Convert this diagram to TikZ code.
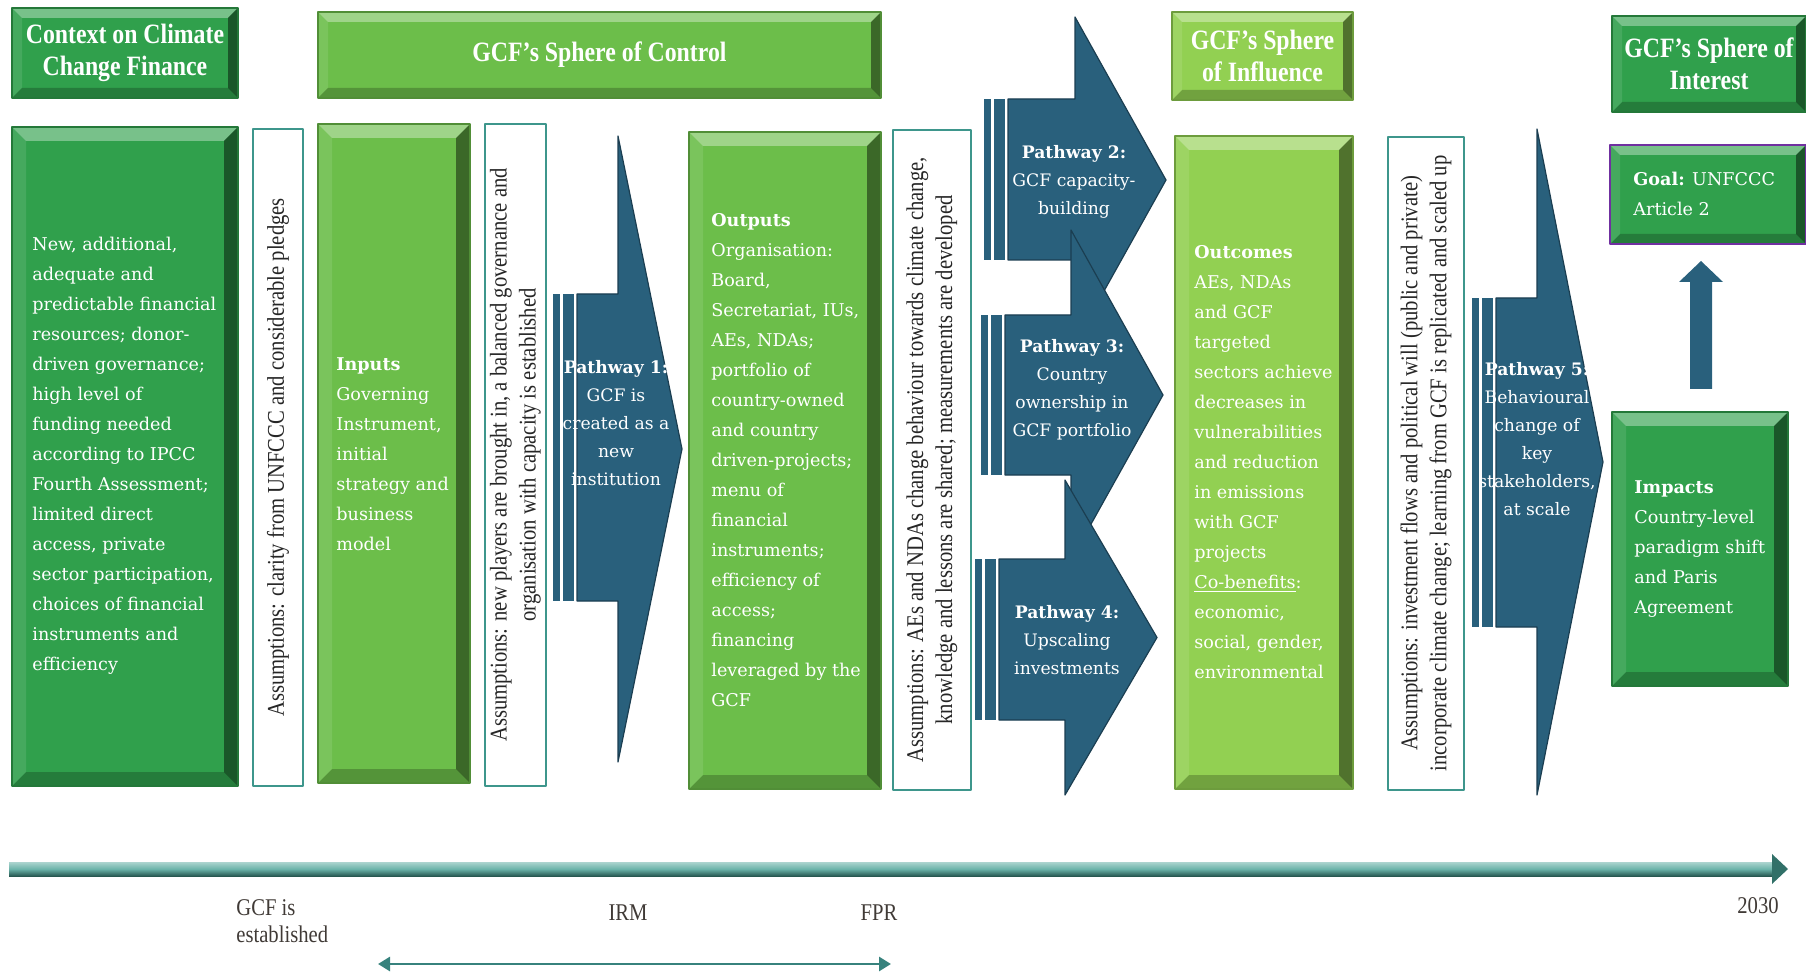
\documentclass[tikz,border=0pt]{standalone}
\usepackage{fontspec}
\setmainfont{DejaVu Serif}
\newfontfamily\headfont[FakeStretch=0.85]{Liberation Serif}
\newfontfamily\notefont[FakeStretch=0.86]{Liberation Serif}
\usetikzlibrary{calc,arrows.meta}

\definecolor{ctxgreen}{RGB}{48,160,76}
\definecolor{ctrlgreen}{RGB}{108,190,74}
\definecolor{inflgreen}{RGB}{146,208,82}
\definecolor{pathblue}{RGB}{41,96,124}
\definecolor{assumteal}{RGB}{62,150,140}
\definecolor{timeteal}{RGB}{70,160,148}
\definecolor{spanteal}{RGB}{55,130,125}
\definecolor{goalpurple}{RGB}{112,48,160}
\definecolor{labelgray}{RGB}{64,58,54}

\tikzset{
  bevel/.style={path picture={
      \coordinate (bv1) at (path picture bounding box.north west);
      \coordinate (bv2) at (path picture bounding box.north east);
      \coordinate (bv3) at (path picture bounding box.south east);
      \coordinate (bv4) at (path picture bounding box.south west);
      \coordinate (bw1) at ($(bv1)+(#1,-#1)$);
      \coordinate (bw2) at ($(bv2)+(-#1,-#1)$);
      \coordinate (bw3) at ($(bv3)+(-#1,#1)$);
      \coordinate (bw4) at ($(bv4)+(#1,#1)$);
      \fill[white,opacity=.35] (bv1) -- (bv2) -- (bw2) -- (bw1) -- cycle;
      \fill[black,opacity=.45] (bv2) -- (bv3) -- (bw3) -- (bw2) -- cycle;
      \fill[black,opacity=.22] (bv3) -- (bv4) -- (bw4) -- (bw3) -- cycle;
      \fill[white,opacity=.10] (bv4) -- (bv1) -- (bw1) -- (bw4) -- cycle;
    }},
  bevel/.default=7pt,
  panel/.style={fill=#1, draw=#1!75!black, line width=0.6pt, bevel, inner sep=0pt},
  headtext/.style={text=white, font=\headfont\bfseries\fontsize{14}{16}\selectfont, align=center},
  bodytext/.style={text=white, font=\fontsize{8.8}{15}\selectfont, align=left, anchor=west, inner sep=0pt},
  waytext/.style={text=white, font=\fontsize{8.6}{14}\selectfont, align=center, inner sep=0pt},
  assumbox/.style={draw=assumteal, line width=0.9pt, fill=white, inner sep=0pt},
  assumtext/.style={rotate=90, font=\notefont\fontsize{12}{14.5}\selectfont, align=center, text=black!85, inner sep=0pt},
  timetext/.style={font=\notefont\fontsize{12}{13.5}\selectfont, text=labelgray, inner sep=0pt},
}

\begin{document}
\begin{tikzpicture}[x=0.5pt, y=-0.5pt, line join=round, >=Triangle]
  \useasboundingbox (0,0) rectangle (1806,973);
  %%%%%%%%%%%%%%%%%%%%%%%%%%%%%%%%%
  % headers
  \node[panel=ctxgreen, bevel=5pt, headtext, minimum width=113pt, minimum height=45pt] (ctxhead) at (125,53) {Context on Climate\\Change Finance};
  \node[panel=ctrlgreen, bevel=5pt, headtext, minimum width=281.5pt, minimum height=43pt] (ctrlhead) at (599.5,55) {GCF’s Sphere of Control};
  \node[panel=inflgreen, bevel=5pt, headtext, minimum width=90.5pt, minimum height=44pt] (inflhead) at (1262.5,56) {GCF’s Sphere\\of Influence};
  \node[panel=ctxgreen, bevel=5pt, headtext, minimum width=97pt, minimum height=48pt] (inthead) at (1709,64) {GCF’s Sphere of\\Interest};
  %%%%%%%%%%%%%%%%%%%%%%%%%%%%%%%%%
  % panels
  \node[panel=ctxgreen, minimum width=113pt, minimum height=329.5pt] (context) at (125,456.5) {};
  \node[panel=ctrlgreen, minimum width=76pt, minimum height=329.5pt] (inputs) at (394,453.5) {};
  \node[panel=ctrlgreen, minimum width=96pt, minimum height=328.5pt] (outputs) at (785,460.5) {};
  \node[panel=inflgreen, minimum width=89pt, minimum height=326.5pt] (outcomes) at (1264,462.5) {};
  \node[panel=ctxgreen, minimum width=88pt, minimum height=137pt] (impacts) at (1700,549) {};
  \node[panel=ctxgreen, bevel=5pt, draw=goalpurple, line width=1.2pt, minimum width=98pt, minimum height=49.5pt] (goal) at (1708,194.5) {};
  %%%%%%%%%%%%%%%%%%%%%%%%%%%%%%%%%
  \node[bodytext] (ctxtext) at (32,456) {New, additional,\\adequate and\\predictable financial\\resources; donor-\\driven governance;\\high level of\\funding needed\\according to IPCC\\Fourth Assessment;\\limited direct\\access, private\\sector participation,\\choices of financial\\instruments and\\efficiency};
  \node[bodytext] (inputtext) at (336,454) {\textbf{Inputs}\\Governing\\Instrument,\\initial\\strategy and\\business\\model};
  \node[bodytext] (outputtext) at (711,460) {\textbf{Outputs}\\Organisation:\\Board,\\Secretariat, IUs,\\AEs, NDAs;\\portfolio of\\country-owned\\and country\\driven-projects;\\menu of\\financial\\instruments;\\efficiency of\\access;\\financing\\leveraged by the\\GCF};
  \node[bodytext] (outcometext) at (1194,462) {\textbf{Outcomes}\\AEs, NDAs\\and GCF\\targeted\\sectors achieve\\decreases in\\vulnerabilities\\and reduction\\in emissions\\with GCF\\projects\\\underline{Co-benefits}:\\economic,\\social, gender,\\environmental};
  \node[bodytext] (impacttext) at (1634,549) {\textbf{Impacts}\\Country-level\\paradigm shift\\and Paris\\Agreement};
  \node[bodytext] (goaltext) at (1633,194) {\textbf{Goal:} UNFCCC\\Article 2};
  %%%%%%%%%%%%%%%%%%%%%%%%%%%%%%%%%
  % assumptions
  \node[assumbox, minimum width=25pt, minimum height=328.5pt] (assum1) at (278,457.5) {};
  \node[assumbox, minimum width=30.5pt, minimum height=331pt] (assum2) at (515.5,455) {};
  \node[assumbox, minimum width=39pt, minimum height=330pt] (assum3) at (932,460) {};
  \node[assumbox, minimum width=38pt, minimum height=326.5pt] (assum4) at (1426,463.5) {};
  \node[assumtext] at (assum1.center) {Assumptions: clarity from UNFCCC and considerable pledges};
  \node[assumtext] at (assum2.center) {Assumptions: new players are brought in, a balanced governance and\\organisation with capacity is established};
  \node[assumtext] at (assum3.center) {Assumptions: AEs and NDAs change behaviour towards climate change,\\knowledge and lessons are shared; measurements are developed};
  \node[assumtext] at (assum4.center) {Assumptions: investment flows and political will (public and private)\\incorporate climate change; learning from GCF is replicated and scaled up};
  %%%%%%%%%%%%%%%%%%%%%%%%%%%%%%%%%
  % pathways
  \foreach \xs/\sa/\sb/\xn/\ha/\hb/\xt in {553/294/601/618/136/762/682, 984/99/260/1075/17/343/1166, 981/315/475/1071/230/560/1163, 975/559/720/1065/480/795/1157, 1472/298/627/1537/129/795/1603}{
    \fill[pathblue] (\xs,\sa) rectangle (\xs+7,\sb);
    \fill[pathblue] (\xs+10,\sa) rectangle (\xs+21,\sb);
    \filldraw[pathblue, draw=pathblue!65!black, line width=0.6pt] (\xs+24,\sa) -- (\xn,\sa) -- (\xn,\ha) -- (\xt,{(\ha+\hb)/2}) -- (\xn,\hb) -- (\xn,\sb) -- (\xs+24,\sb) -- cycle;
  }
  \node[waytext] (way1) at (616,423) {\textbf{Pathway 1:}\\GCF is\\created as a\\new\\institution};
  \node[waytext] (way2) at (1074,182) {\textbf{Pathway 2:}\\GCF capacity-\\building};
  \node[waytext] (way3) at (1072,390) {\textbf{Pathway 3:}\\Country\\ownership in\\GCF portfolio};
  \node[waytext] (way4) at (1067,640) {\textbf{Pathway 4:}\\Upscaling\\investments};
  \node[waytext] (way5) at (1537,439) {\textbf{Pathway 5:}\\Behavioural\\change of\\key\\stakeholders,\\at scale};
  %%%%%%%%%%%%%%%%%%%%%%%%%%%%%%%%%
  % impacts to goal
  \fill[pathblue] (1690,389) -- (1690,282) -- (1679,282) -- (1701,261) -- (1723,282) -- (1712,282) -- (1712,389) -- cycle;
  %%%%%%%%%%%%%%%%%%%%%%%%%%%%%%%%%
  % timeline
  \coordinate (tstart) at (9,869);
  \coordinate (tend) at (1788,869);
  \shade[top color=timeteal!45!white, bottom color=timeteal!55!black, middle color=timeteal!80!white] ($(tstart)+(0,-7)$) rectangle ($(tend)+(-16,7)$);
  \fill[timeteal!70!black] ($(tend)+(-16,-15)$) -- (tend) -- ($(tend)+(-16,15)$) -- cycle;
  \node[timetext, anchor=west, align=left] (gcfest) at (236,921) {GCF is\\established};
  \node[timetext] (irm) at (628,913) {IRM};
  \node[timetext] (fpr) at (879,913) {FPR};
  \node[timetext] (end) at (1758,906) {2030};
  \coordinate (spanstart) at (378,964);
  \coordinate (spanend) at (891,964);
  \draw[{Triangle[length=6pt,width=7pt]}-{Triangle[length=6pt,width=7pt]}, line width=1.4pt, spanteal] (spanstart) -- (spanend);
  %%%%%%%%%%%%%%%%%%%%%%%%%%%%%%%%%
\end{tikzpicture}
\end{document}
